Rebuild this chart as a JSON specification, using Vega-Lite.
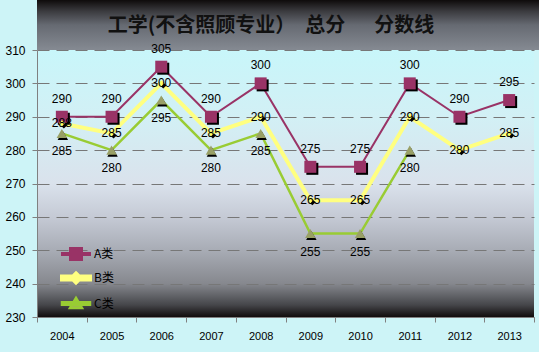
{
  "$schema": "https://vega.github.io/schema/vega-lite/v6.json",
  "background": "#cdf4f7",
  "padding": 0,
  "columns": 1,
  "bounds": "flush",
  "spacing": 0,
  "concat": [
    {
      "width": 502,
      "height": 50,
      "view": {"stroke": null, "fill": {"gradient": "linear", "x1": 0, "y1": 0, "x2": 0, "y2": 1, "stops": [{"offset": 0, "color": "#0e0b0b"}, {"offset": 0.22, "color": "#3a3a3e"}, {"offset": 0.5, "color": "#666a72"}, {"offset": 1, "color": "#858a92"}]}},
      "data": {"values": [{"title": "工学(不含照顾专业）　总分　\u00a0\u00a0分数线"}]},
      "mark": {"type": "text", "font": "Noto Sans CJK SC", "fontSize": 20, "fontWeight": "bold", "color": "#111111", "baseline": "middle", "dx": -17, "dy": 1},
      "encoding": {"text": {"field": "title", "type": "nominal"}}
    },
    {
      "width": 497,
      "height": 267,
      "view": {"stroke": null, "fill": {"gradient": "linear", "x1": 0, "y1": 0, "x2": 0, "y2": 1, "stops": [{"offset": 0, "color": "#c8f6fa"}, {"offset": 0.25, "color": "#d2f0f5"}, {"offset": 0.5, "color": "#dae2ec"}, {"offset": 0.625, "color": "#c5cad5"}, {"offset": 0.75, "color": "#a8acb5"}, {"offset": 0.875, "color": "#86888e"}, {"offset": 0.955, "color": "#45464a"}, {"offset": 1, "color": "#100c0c"}]}},
      "data": {"values": [
        {"year": "2004", "series": "A类", "value": 290},
        {"year": "2005", "series": "A类", "value": 290},
        {"year": "2006", "series": "A类", "value": 305},
        {"year": "2007", "series": "A类", "value": 290},
        {"year": "2008", "series": "A类", "value": 300},
        {"year": "2009", "series": "A类", "value": 275},
        {"year": "2010", "series": "A类", "value": 275},
        {"year": "2011", "series": "A类", "value": 300},
        {"year": "2012", "series": "A类", "value": 290},
        {"year": "2013", "series": "A类", "value": 295},
        {"year": "2004", "series": "B类", "value": 288},
        {"year": "2005", "series": "B类", "value": 285},
        {"year": "2006", "series": "B类", "value": 300},
        {"year": "2007", "series": "B类", "value": 285},
        {"year": "2008", "series": "B类", "value": 290},
        {"year": "2009", "series": "B类", "value": 265},
        {"year": "2010", "series": "B类", "value": 265},
        {"year": "2011", "series": "B类", "value": 290},
        {"year": "2012", "series": "B类", "value": 280},
        {"year": "2013", "series": "B类", "value": 285},
        {"year": "2004", "series": "C类", "value": 285},
        {"year": "2005", "series": "C类", "value": 280},
        {"year": "2006", "series": "C类", "value": 295},
        {"year": "2007", "series": "C类", "value": 280},
        {"year": "2008", "series": "C类", "value": 285},
        {"year": "2009", "series": "C类", "value": 255},
        {"year": "2010", "series": "C类", "value": 255},
        {"year": "2011", "series": "C类", "value": 280}
      ]},
      "encoding": {
        "x": {"field": "year", "type": "ordinal", "scale": {"type": "band", "paddingInner": 0, "paddingOuter": 0},
              "axis": {"title": null, "labelAngle": 0, "tickBand": "extent", "grid": false, "minExtent": 35, "maxExtent": 35, "domainColor": "#808080", "tickColor": "#808080", "tickSize": 5, "labelPadding": 8, "labelFont": "Liberation Sans", "labelFontSize": 11, "labelColor": "#000000"}},
        "y": {"field": "value", "type": "quantitative", "scale": {"domain": [230, 310], "nice": false, "zero": false},
              "axis": {"title": null, "values": [230, 240, 250, 260, 270, 280, 290, 300, 310], "minExtent": 37, "maxExtent": 37, "domainColor": "#808080", "tickColor": "#808080", "tickSize": 5, "labelPadding": 7, "labelFont": "Liberation Sans", "labelFontSize": 12, "labelColor": "#000000", "grid": true, "gridColor": "#777777", "gridDash": [12, 7], "gridWidth": 1}}
      },
      "layer": [
        {
          "mark": {"type": "line"},
          "encoding": {
            "stroke": {"field": "series", "type": "nominal", "scale": {"domain": ["A类", "B类", "C类"], "range": ["#993366", "#ffff80", "#99cc33"]},
                       "legend": {"orient": "none", "legendX": 27, "legendY": 243, "title": null, "padding": 0, "symbolSize": 400, "rowPadding": 1, "labelOffset": 6, "labelFont": "Noto Sans CJK SC", "labelFontSize": 12, "labelColor": "#000000",
                                  "encode": {"symbols": {"update": {"shape": {"signal": "datum.value === 'A类' ? 'M-1.4,-0.1H1.4V0.1H-1.4Z M-0.6,-0.6H0.6V0.6H-0.6Z' : datum.value === 'B类' ? 'M-1.4,-0.15H1.4V0.15H-1.4Z M0,-0.45L0.45,0L0,0.45L-0.45,0Z' : 'M-1.4,-0.12H1.4V0.12H-1.4Z M0,-0.55L0.6,0.45H-0.6Z'"}, "size": {"value": 400}, "fill": {"signal": "datum.value === 'A类' ? '#993366' : datum.value === 'B类' ? '#ffff66' : '#a0b455'"}, "strokeWidth": {"value": 0}, "opacity": {"value": 1}, "fillOpacity": {"value": 1}}}}}},
            "strokeWidth": {"field": "series", "type": "nominal", "scale": {"type": "ordinal", "domain": ["A类", "B类", "C类"], "range": [2, 4, 2.5]},
                       "legend": {"orient": "none", "legendX": 27, "legendY": 243, "title": null, "padding": 0, "symbolSize": 400, "rowPadding": 1, "labelOffset": 6, "labelFont": "Noto Sans CJK SC", "labelFontSize": 12, "labelColor": "#000000",
                                  "encode": {"symbols": {"update": {"shape": {"signal": "datum.value === 'A类' ? 'M-1.4,-0.1H1.4V0.1H-1.4Z M-0.6,-0.6H0.6V0.6H-0.6Z' : datum.value === 'B类' ? 'M-1.4,-0.15H1.4V0.15H-1.4Z M0,-0.45L0.45,0L0,0.45L-0.45,0Z' : 'M-1.4,-0.12H1.4V0.12H-1.4Z M0,-0.55L0.6,0.45H-0.6Z'"}, "size": {"value": 400}, "fill": {"signal": "datum.value === 'A类' ? '#993366' : datum.value === 'B类' ? '#ffff66' : '#a0b455'"}, "strokeWidth": {"value": 0}, "opacity": {"value": 1}, "fillOpacity": {"value": 1}}}}}}
          }
        },
        {
          "transform": [{"filter": "datum.series === 'A类'"}],
          "mark": {"type": "point", "shape": "square", "filled": true, "color": "#000000", "opacity": 1, "size": 144, "xOffset": 2, "yOffset": 2}
        },
        {
          "transform": [{"filter": "datum.series === 'B类'"}],
          "mark": {"type": "point", "shape": "diamond", "filled": true, "color": "#000000", "opacity": 1, "size": 40, "xOffset": 2, "yOffset": 2}
        },
        {
          "transform": [{"filter": "datum.series === 'C类'"}],
          "mark": {"type": "point", "shape": "triangle-up", "filled": true, "color": "#000000", "opacity": 1, "size": 110, "xOffset": 1, "yOffset": 2}
        },
        {
          "transform": [{"filter": "datum.series === 'A类'"}],
          "mark": {"type": "point", "shape": "square", "filled": true, "color": "#993366", "opacity": 1, "size": 144}
        },
        {
          "transform": [{"filter": "datum.series === 'B类'"}],
          "mark": {"type": "point", "shape": "diamond", "filled": true, "color": "#ffff66", "opacity": 1, "size": 40}
        },
        {
          "transform": [{"filter": "datum.series === 'C类'"}],
          "mark": {"type": "point", "shape": "triangle-up", "filled": true, "color": "#99a066", "opacity": 1, "size": 110}
        },
        {
          "transform": [{"filter": "datum.series === 'A类'"}],
          "mark": {"type": "text", "dy": -18, "font": "Liberation Sans", "fontSize": 12, "color": "#000000"},
          "encoding": {"text": {"field": "value", "type": "quantitative"}}
        },
        {
          "transform": [{"filter": "datum.series === 'B类'"}],
          "mark": {"type": "text", "dy": 0, "font": "Liberation Sans", "fontSize": 12, "color": "#000000"},
          "encoding": {"text": {"field": "value", "type": "quantitative"}}
        },
        {
          "transform": [{"filter": "datum.series === 'C类'"}],
          "mark": {"type": "text", "dy": 18, "font": "Liberation Sans", "fontSize": 12, "color": "#000000"},
          "encoding": {"text": {"field": "value", "type": "quantitative"}}
        }
      ]
    }
  ]
}
